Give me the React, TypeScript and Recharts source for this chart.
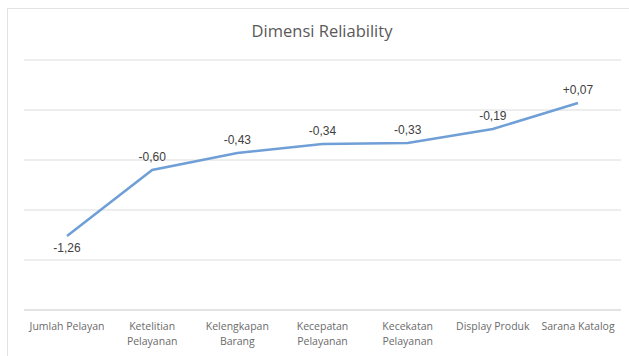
import React from "react";
import { LineChart, Line, XAxis, YAxis, CartesianGrid, LabelList } from "recharts";

const categories = [
  "Jumlah Pelayan",
  "Ketelitian\nPelayanan",
  "Kelengkapan\nBarang",
  "Kecepatan\nPelayanan",
  "Kecekatan\nPelayanan",
  "Display Produk",
  "Sarana Katalog",
];
const values = [-1.26, -0.6, -0.43, -0.34, -0.33, -0.19, 0.07];
const valueLabels = ["-1,26", "-0,60", "-0,43", "-0,34", "-0,33", "-0,19", "+0,07"];
const yTicks = [-2, -1.5, -1, -0.5, 0, 0.5];

const data = categories.map((c, i) => ({ name: c, value: values[i], label: valueLabels[i] }));

const CatTick = (props: any) => {
  const { x, y, payload } = props;
  const lines = String(payload.value).split("\n");
  return (
    <g>
      {lines.map((l: string, i: number) => (
        <text
          key={i}
          x={x}
          y={y + 12 + i * 15}
          textAnchor="middle"
          fontSize={10.5}
          fill="#6b6b6b"
          fontFamily="'Open Sans', sans-serif"
        >
          {l}
        </text>
      ))}
    </g>
  );
};

const ValueLabel = (props: any) => {
  const { x, y, index } = props;
  const below = index === 0;
  return (
    <text
      x={x}
      y={below ? y + 16 : y - 9}
      textAnchor="middle"
      fontSize={12}
      fill="#404040"
      fontFamily="'Liberation Sans', Arial, sans-serif"
    >
      {valueLabels[index]}
    </text>
  );
};

export default function App() {
  return (
    <div
      style={{
        position: "absolute",
        left: 0,
        top: 0,
        width: 629,
        height: 356,
        background: "#fff",
      }}
    >
      <div
        style={{
          position: "absolute",
          left: 7,
          top: 8,
          width: 640,
          height: 360,
          border: "1px solid #e3e3e3",
          boxSizing: "border-box",
        }}
      />
      <div
        style={{
          position: "absolute",
          left: 0,
          top: 19,
          width: 644,
          textAlign: "center",
          fontFamily: "'Open Sans', sans-serif",
          fontSize: 16.5,
          color: "#595959",
        }}
      >
        Dimensi Reliability
      </div>
      <div style={{ position: "absolute", left: 0, top: 0 }}>
        <LineChart
          width={629}
          height={356}
          data={data}
          margin={{ top: 60, right: 8, left: 24, bottom: 0 }}
        >
          <CartesianGrid vertical={false} stroke="#dcdcdc" strokeWidth={1} />
          <XAxis
            dataKey="name"
            height={46}
            interval={0}
            padding={{ left: 43, right: 43 }}
            tickLine={false}
            axisLine={{ stroke: "#d9d9d9" }}
            tick={<CatTick />}
          />
          <YAxis hide domain={[-2, 0.5]} ticks={yTicks} />
          <Line
            type="linear"
            dataKey="value"
            stroke="#6f9fd6"
            strokeWidth={2.5}
            dot={false}
            isAnimationActive={false}
          >
            <LabelList dataKey="label" content={<ValueLabel />} />
          </Line>
        </LineChart>
      </div>
    </div>
  );
}
